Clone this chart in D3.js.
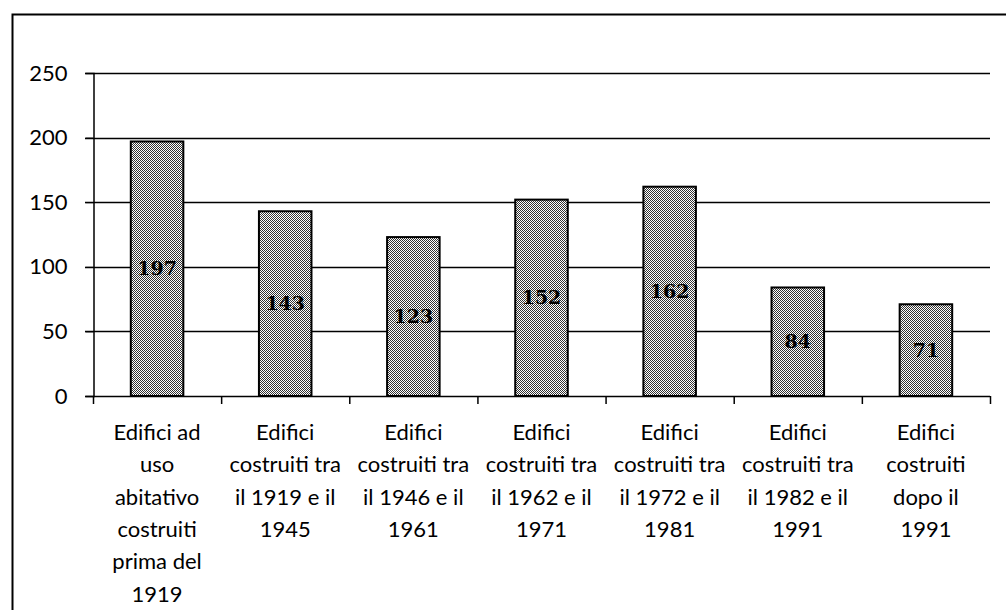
<!DOCTYPE html>
<head>
	<script src="https://d3js.org/d3.v7.min.js"></script>
	<style>
		body { margin: 0; background: #fff; }
		svg { display: block; }
	</style>
</head>
<body>
<svg></svg>
<script>
	var categories = [
		"Edifici ad|uso|abitativo|costruiti|prima del|1919",
		"Edifici|costruiti tra|il 1919 e il|1945",
		"Edifici|costruiti tra|il 1946 e il|1961",
		"Edifici|costruiti tra|il 1962 e il|1971",
		"Edifici|costruiti tra|il 1972 e il|1981",
		"Edifici|costruiti tra|il 1982 e il|1991",
		"Edifici|costruiti|dopo il|1991"
	];
	var values = [197, 143, 123, 152, 162, 84, 71];
	var yTicks = [0, 50, 100, 150, 200, 250];

	var width = 1006, height = 610;
	var svg = d3.select("svg").attr("width", width).attr("height", height);

	// bar fill: stippled gray like the scanned original
	var pat = svg.append("defs").append("pattern")
		.attr("id", "dots")
		.attr("patternUnits", "userSpaceOnUse")
		.attr("width", 4).attr("height", 4);
	pat.append("rect").attr("width", 4).attr("height", 4).attr("fill", "#fff");
	[[0,0],[2,0],[1,1],[3,1],[0,2],[2,2],[3,3],[1,3]].forEach(function(p) {
		pat.append("rect").attr("x", p[0]).attr("y", p[1])
			.attr("width", 1).attr("height", 1).attr("fill", "#333");
	});

	// chart frame (left and top edges visible)
	svg.append("rect")
		.attr("x", 12.5).attr("y", 14.5)
		.attr("width", 1100).attr("height", 700)
		.attr("fill", "none").attr("stroke", "#000").attr("stroke-width", 2);

	var x = d3.scaleBand()
		.domain(d3.range(categories.length))
		.range([93, 990])
		.paddingInner(0.59)
		.paddingOuter(0.295);

	var y = d3.scaleLinear()
		.domain([0, 250])
		.range([396, 73]);

	// gridlines
	svg.append("g").selectAll("line")
		.data(yTicks.filter(function(d) { return d > 0; }))
		.enter().append("line")
		.attr("x1", 85).attr("x2", 990)
		.attr("y1", function(d) { return Math.round(y(d)) + 0.5; })
		.attr("y2", function(d) { return Math.round(y(d)) + 0.5; })
		.attr("stroke", "#000").attr("stroke-width", 1.5);

	var yAxis = d3.axisLeft(y).tickValues(yTicks).tickSize(8).tickPadding(18);
	svg.append("g")
		.attr("transform", "translate(93.5,0)")
		.call(yAxis)
		.call(function(g) {
			g.select(".domain").attr("stroke", "#000").attr("stroke-width", 1.5);
			g.selectAll("text").attr("font-family", "Lato, 'Open Sans', sans-serif")
				.attr("font-size", 22).attr("fill", "#000");
		});

	// bars
	svg.append("g").selectAll("rect")
		.data(values)
		.enter().append("rect")
		.attr("x", function(d, i) { return x(i); })
		.attr("y", function(d) { return y(d); })
		.attr("width", x.bandwidth())
		.attr("height", function(d) { return y(0) - y(d); })
		.attr("fill", "url(#dots)")
		.attr("stroke", "#000").attr("stroke-width", 2);

	// value labels
	svg.append("g").selectAll("text")
		.data(values)
		.enter().append("text")
		.attr("x", function(d, i) { return x(i) + x.bandwidth() / 2; })
		.attr("y", function(d) { return (y(d) + y(0)) / 2; })
		.attr("dy", "0.35em")
		.attr("text-anchor", "middle")
		.attr("font-family", "'DejaVu Serif', serif")
		.attr("font-weight", "bold")
		.attr("font-size", 19)
		.attr("fill", "#000")
		.text(function(d) { return d; });

	// x axis line and ticks at category boundaries
	var xg = svg.append("g");
	xg.append("line")
		.attr("x1", 85).attr("x2", 990)
		.attr("y1", 396.5).attr("y2", 396.5)
		.attr("stroke", "#000").attr("stroke-width", 1.5);
	xg.selectAll("line.tick")
		.data(d3.range(categories.length + 1))
		.enter().append("line")
		.attr("class", "tick")
		.attr("x1", function(i) { return 93.5 + i * x.step(); })
		.attr("x2", function(i) { return 93.5 + i * x.step(); })
		.attr("y1", 396).attr("y2", 404)
		.attr("stroke", "#000").attr("stroke-width", 1.5);

	// category labels
	var lab = svg.append("g").selectAll("text")
		.data(categories)
		.enter().append("text")
		.attr("text-anchor", "middle")
		.attr("font-family", "Lato, 'Open Sans', sans-serif")
		.attr("font-size", 22)
		.attr("fill", "#000");
	lab.selectAll("tspan")
		.data(function(d, i) { return d.split("|").map(function(t) { return { t: t, i: i }; }); })
		.enter().append("tspan")
		.attr("x", function(d) { return x(d.i) + x.bandwidth() / 2; })
		.attr("y", function(d, j) { return 440 + j * 32.3; })
		.text(function(d) { return d.t; });
</script>
</body>
</html>
